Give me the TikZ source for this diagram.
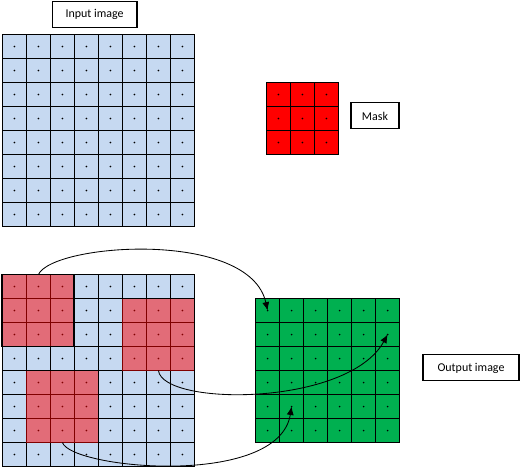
\documentclass[tikz,border=0pt]{standalone}
\usepackage{fontspec}
\setmainfont{Carlito}
\usetikzlibrary{calc,positioning,arrows,arrows.meta}
\definecolor{cellblue}{HTML}{C6D9F1}
\definecolor{cellgreen}{HTML}{00B050}
\definecolor{maskred}{HTML}{FF0000}
\tikzset{
  cell/.style={draw,line width=0.6pt,minimum size=0.6cm,inner sep=0pt,outer sep=0pt},
  lbl/.style={draw,line width=0.8pt,minimum height=0.65cm,inner sep=0pt,font=\fontsize{8.5pt}{10pt}\selectfont},
  link/.style={-{Latex[length=6pt,width=5pt]},line width=0.6pt}
}
\begin{document}
\begin{tikzpicture}[scale=0.6]
            \useasboundingbox (0,0) rectangle (21.75,19.54);
            \node[lbl,minimum width=2.12cm] (inputlbl) at (3.94,18.92) {Input image};
            \node[lbl,minimum width=1.2cm] (masklbl) at (15.625,14.71) {Mask};
            \node[lbl,minimum width=2.4cm] (outputlbl) at (19.625,4.21) {Output image};
            \foreach \r in {0,...,7}
              \foreach \c in {0,...,7}
                {
                  \node[cell,fill=cellblue] (in-\r-\c) at (0.6+\c,17.6-\r) {};
                  \fill (in-\r-\c.center) circle (1.1pt);
                  \node[cell,fill=cellblue] (b-\r-\c) at (0.6+\c,7.6-\r) {};
                  \fill (b-\r-\c.center) circle (1.1pt);
                }
            \foreach \r in {0,1,2}
              \foreach \c in {0,1,2}
                {
                  \node[cell,fill=maskred] (m-\r-\c) at (11.6+\c,15.6-\r) {};
                  \fill (m-\r-\c.center) circle (1.1pt);
                }
            \foreach \r in {0,...,5}
              \foreach \c in {0,...,5}
                {
                  \node[cell,fill=cellgreen] (out-\r-\c) at (11.15+\c,6.6-\r) {};
                  \fill (out-\r-\c.center) circle (1.1pt);
                }
            \fill[maskred,opacity=0.5] (b-0-0.north west) rectangle (b-2-2.south east);
            \fill[maskred,opacity=0.5] (b-1-5.north west) rectangle (b-3-7.south east);
            \fill[maskred,opacity=0.5] (b-4-1.north west) rectangle (b-6-3.south east);
            \draw[line width=1.3pt] (b-0-0.north west) rectangle (b-2-2.south east);
            \draw[link] (b-0-1.north) .. controls (2.2,9.4) and (10.4,10) .. (out-0-0.center);
            \draw[link] (b-3-6.south) .. controls (6.8,2.6) and (14.5,2.6) .. (out-1-5.center);
            \draw[link] (b-6-2.south) .. controls (3,0) and (11.6,-0.8) .. (out-4-1.center);
          \end{tikzpicture}
\end{document}
